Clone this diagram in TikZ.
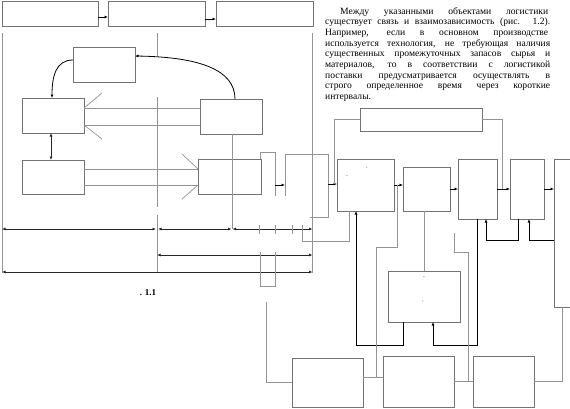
\documentclass[tikz,border=0pt]{standalone}
\usepackage{fontspec}
\setmainfont{Liberation Serif}
\usetikzlibrary{arrows.meta, positioning}

\begin{document}
\begin{tikzpicture}[x=1pt, y=-1pt,
      blk/.style={draw=black!55, line width=0.8pt, inner sep=0pt, outer sep=0pt},
      ln/.style={draw=black!42, line width=0.7pt},
      arr/.style={draw=black, line width=0.8pt, -{Latex[length=3.5pt, width=3pt]}},
      dbl/.style={draw=black!85, line width=0.8pt, {Latex[length=3.5pt, width=3pt]}-{Latex[length=3.5pt, width=3pt]}},
      speck/.style={font=\fontsize{5}{5}\selectfont, inner sep=0pt}]
    \useasboundingbox (0,0) rectangle (570,408);
    \clip (0,0) rectangle (570,408);

    \node[blk, minimum width=96pt, minimum height=25pt] (t1) at (50,13.5) {};
    \node[blk, minimum width=97pt, minimum height=25pt] (t2) at (156.5,13.5) {};
    \node[blk, minimum width=97pt, minimum height=25pt] (t3) at (264.5,13.5) {};
    \draw[arr] ([yshift=-3.5pt]t1.east) -- ([yshift=-3.5pt]t2.west);
    \draw[arr] ([yshift=-5.5pt]t2.east) -- ([yshift=-5.5pt]t3.west);

    \draw[ln] (2,33) -- (2,273);
    \draw[ln] (157,33) -- (157,56) (157,97) -- (157,207) (157,215) -- (157,272);
    \draw[ln] (312.5,33) -- (312.5,273);

    \node[blk, minimum width=62pt, minimum height=35pt] (A) at (104,64.5) {};
    \node[blk, minimum width=62pt, minimum height=35pt] (B) at (53,115.5) {};
    \node[blk, minimum width=62pt, minimum height=35pt] (C) at (231,116.5) {};
    \node[blk, minimum width=62pt, minimum height=34pt] (D) at (53,177) {};
    \node[blk, minimum width=63pt, minimum height=35pt] (E) at (229.5,176.5) {};
    \draw[ln] (C.south -| 232,0) -- (232,229);

    \draw[arr] (A.west |- 0,60) .. controls (56,60) and (52,76) .. (B.north -| 52,0);
    \draw[arr] (C.north -| 235,0) .. controls (235,70) and (200,57) .. (A.east |- 0,56);
    \draw[dbl] (B.south -| 51,0) -- (D.north -| 51,0);

    \draw[ln] (B.east |- 0,108) -- (C.west |- 0,108) (B.east |- 0,125) -- (C.west |- 0,125);
    \draw[ln] (B.east |- 0,108) -- ++(18,-15) (B.east |- 0,125) -- ++(18,14);
    \draw[ln] (D.east |- 0,169) -- (E.west |- 0,169) (D.east |- 0,185) -- (E.west |- 0,185);
    \draw[ln] (E.west |- 0,169) -- ++(-16,-15) (E.west |- 0,185) -- ++(-16,14);

    \coordinate (r1a) at (2,229);
    \coordinate (r1b) at (157,229);
    \coordinate (r1c) at (232,229);
    \coordinate (r1d) at (312.5,229);
    \coordinate (r2a) at (157,255);
    \coordinate (r2b) at (312.5,255);
    \coordinate (r3a) at (2,272);
    \coordinate (r3b) at (312.5,272);
    \draw[dbl] (r1a) -- ([xshift=-1pt]r1b);
    \draw[dbl] ([xshift=1pt]r1b) -- ([xshift=-0.5pt]r1c);
    \draw[dbl] ([xshift=0.5pt]r1c) -- (r1d);
    \draw[dbl] (r2a) -- (r2b);
    \draw[dbl] (r3a) -- (r3b);
    \foreach \x in {259,275,292}
      \draw[ln] (\x,225) -- (\x,234);

    \node[font=\bfseries\fontsize{9}{10}\selectfont] (cap) at (148,293) {. 1.1};

    \node[anchor=north west, inner sep=0pt, align=left,
          font=\fontsize{9.6}{10.7}\selectfont] (txt) at (325,7)
      {\hspace*{15pt}\makebox[208pt][s]{Между указанными объектами логистики}\\
       \makebox[225pt][s]{существует связь и взаимозависимость (рис. 1.2).}\\
       \makebox[223pt][s]{Например, если в основном производстве}\\
       \makebox[225pt][s]{используется технология, не требующая наличия}\\
       \makebox[225pt][s]{существенных промежуточных запасов сырья и}\\
       \makebox[225pt][s]{материалов, то в соответствии с логистикой}\\
       \makebox[225pt][s]{поставки предусматривается осуществлять в}\\
       \makebox[225pt][s]{строго определенное время через короткие}\\
       интервалы.};

    \node[blk, minimum width=122pt, minimum height=23pt] (G) at (421,119.5) {};
    \node[blk, minimum width=57pt, minimum height=52pt] (F) at (365.5,185) {};
    \node[blk, minimum width=47pt, minimum height=44pt] (H) at (426.5,189) {};
    \node[blk, minimum width=39pt, minimum height=60pt] (J) at (477.5,189) {};
    \node[blk, minimum width=34pt, minimum height=60pt] (I) at (527,189) {};
    \node[blk, minimum width=36pt, minimum height=148pt] (K) at (572,233) {};
    \node[blk, minimum width=72pt, minimum height=51pt] (M) at (424,296.5) {};
    \node[blk, minimum width=71pt, minimum height=49pt] (N) at (327.5,382.5) {};
    \node[blk, minimum width=71pt, minimum height=51pt] (O) at (418.5,381.5) {};
    \node[blk, minimum width=61pt, minimum height=51pt] (P) at (503.5,381.5) {};

    \node[speck] (f1) at (347,177) {-};
    \node[speck] (f2) at (367,169) {'};
    \node[speck] (m1) at (424,278) {-};
    \node[speck] (m2) at (423,302) {,};

    \draw[ln] (260,159) -- (260,152) -- (275,152) -- (275,196);
    \draw[arr] (275,185) -- (285,185);
    \draw[ln] (285,196) -- (285,154) -- (328,154) -- (328,217) -- (310,217);
    \draw[arr] (328,184) -- (F.west |- 0,184);
    \draw[ln] (260,252) -- (260,286) -- (275,286) -- (275,252);

    \draw[ln] (G.west) -| (334,184);
    \draw[ln] (G.east) -| (502,189);
    \draw[arr] (F.east) -- (F.east -| H.west);
    \draw[arr] (H.east) -- (H.east -| J.west);
    \draw[arr] (J.east |- I.west) -- (I.west);
    \draw[arr] (I.east) -- (I.east -| K.west);

    \draw[arr] ([xshift=-9pt]I.south) -- ++(0,21) -| ([xshift=8.5pt]J.south);
    \draw[arr] (K.west |- 0,240) -| ([xshift=2pt]I.south);
    \draw[arr] (J.south) -- ++(0,126) -| ([xshift=9pt]M.south);
    \draw[arr] ([xshift=-21pt]M.south) -- ++(0,23) -| ([xshift=-9.5pt]F.south);
    \draw[ln] (M.north) -- (M.north |- H.south);
    \draw[ln] (302,225) |- (349,241) -- ([xshift=-16.5pt]F.south);
    \draw[ln] (397,185) |- (376,247) -- (376,377.5);
    \draw[ln] (454,233) |- (468,252) -- (468,381.5);

    \draw[ln] ([yshift=5pt]N.east) -- ([yshift=5pt]N.east -| O.west);
    \draw[ln] (O.east) -- (P.west);
    \draw[ln] (P.east) -| ([xshift=-10pt]K.south);
    \draw[ln] (266,302) |- (N.west);
  \end{tikzpicture}
\end{document}
